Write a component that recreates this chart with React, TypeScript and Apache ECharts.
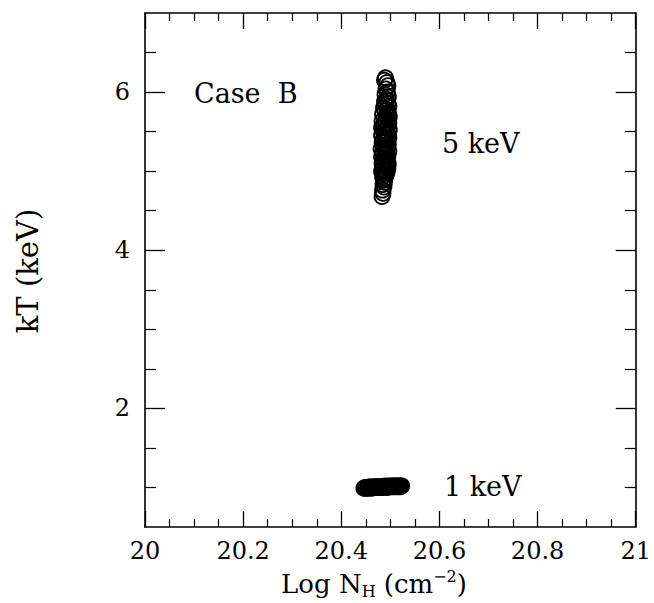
import React, { useEffect, useRef } from "react";
import * as echarts from "echarts";

// 5 keV model fits: log NH and kT
const hotLogNH = [
  20.49, 20.488, 20.493, 20.495, 20.491, 20.494, 20.489, 20.496, 20.492, 20.488,
  20.495, 20.49, 20.497, 20.486, 20.493, 20.489, 20.496, 20.484, 20.492, 20.498,
  20.487, 20.494, 20.49, 20.483, 20.497, 20.491, 20.486, 20.495, 20.482, 20.492,
  20.498, 20.485, 20.493, 20.488, 20.496, 20.482, 20.49, 20.497, 20.485, 20.493,
  20.488, 20.483, 20.496, 20.491, 20.486, 20.494, 20.481, 20.49, 20.497, 20.484,
  20.492, 20.488, 20.495, 20.482, 20.491, 20.486, 20.494, 20.489, 20.483, 20.496,
  20.487, 20.492, 20.484, 20.495, 20.489, 20.482, 20.493, 20.487, 20.491, 20.484,
  20.489, 20.486, 20.488, 20.485, 20.487, 20.484, 20.485, 20.483,
];
const hotKT = [
  6.18, 6.15, 6.12, 6.08, 6.04, 6.0, 5.97, 5.94, 5.91, 5.88,
  5.86, 5.84, 5.82, 5.8, 5.78, 5.76, 5.74, 5.72, 5.71, 5.69,
  5.67, 5.66, 5.64, 5.63, 5.61, 5.6, 5.58, 5.57, 5.55, 5.54,
  5.52, 5.51, 5.49, 5.48, 5.46, 5.45, 5.43, 5.42, 5.4, 5.39,
  5.37, 5.36, 5.34, 5.33, 5.31, 5.3, 5.28, 5.27, 5.25, 5.24,
  5.22, 5.21, 5.19, 5.18, 5.16, 5.15, 5.13, 5.12, 5.1, 5.09,
  5.07, 5.06, 5.04, 5.03, 5.01, 5.0, 4.98, 4.97, 4.95, 4.93,
  4.91, 4.89, 4.86, 4.83, 4.8, 4.76, 4.72, 4.68,
];

// 1 keV model fits: log NH and kT
const coolLogNH = [
  20.446, 20.448, 20.45, 20.451, 20.453, 20.455, 20.457, 20.458, 20.46, 20.462,
  20.464, 20.466, 20.467, 20.469, 20.471, 20.473, 20.475, 20.476, 20.478, 20.48,
  20.482, 20.484, 20.485, 20.487, 20.489, 20.491, 20.493, 20.494, 20.496, 20.498,
  20.5, 20.502, 20.503, 20.505, 20.507, 20.509, 20.511, 20.512, 20.514, 20.516,
  20.518, 20.52, 20.521, 20.523,
];
const coolKT = [
  0.99, 1.0, 0.99, 1.0, 1.0, 0.99, 1.0, 1.01, 1.0, 0.99,
  1.0, 1.01, 1.0, 1.0, 1.01, 1.0, 1.01, 1.0, 1.01, 1.0,
  1.01, 1.01, 1.0, 1.01, 1.02, 1.01, 1.0, 1.01, 1.02, 1.01,
  1.01, 1.02, 1.01, 1.02, 1.01, 1.02, 1.01, 1.02, 1.02, 1.01,
  1.02, 1.01, 1.02, 1.02,
];

const kTMajorTicks = [2, 4, 6];
const kTMinorTicks = [1, 1.5, 2.5, 3, 3.5, 4.5, 5, 5.5, 6.5];

const FONT = "DejaVu Serif";

export default function App() {
  const ref = useRef<HTMLDivElement>(null);

  useEffect(() => {
    document.body.style.margin = "0";
    if (!ref.current) return;
    const chart = echarts.init(ref.current, null, { renderer: "svg" });

    const line = { show: true, lineStyle: { color: "#000", width: 1.6 } };

    const xBase = (position: "bottom" | "top", showLabel: boolean) => ({
      type: "value" as const,
      position,
      min: 20,
      max: 21,
      interval: 0.2,
      axisLine: line,
      axisTick: { show: true, inside: true, length: 16, lineStyle: { color: "#000", width: 1.3 } },
      minorTick: { show: true, splitNumber: 4, length: 8, lineStyle: { color: "#000", width: 1.2 } },
      splitLine: { show: false },
      axisLabel: {
        show: showLabel,
        margin: 12,
        color: "#000",
        fontFamily: FONT,
        fontSize: 24,
        formatter: (v: number) => String(Number(v.toFixed(1))),
      },
    });

    const yMajor = (position: "left" | "right", showLabel: boolean) => ({
      type: "value" as const,
      position,
      min: 0.5,
      max: 7,
      axisLine: line,
      axisTick: {
        show: true,
        inside: true,
        length: 20,
        customValues: kTMajorTicks,
        lineStyle: { color: "#000", width: 1.3 },
      },
      splitLine: { show: false },
      axisLabel: {
        show: showLabel,
        customValues: kTMajorTicks,
        margin: 15,
        color: "#000",
        fontFamily: FONT,
        fontSize: 24,
      },
    });

    const yMinor = (position: "left" | "right") => ({
      type: "value" as const,
      position,
      min: 0.5,
      max: 7,
      axisLine: { show: false },
      axisTick: {
        show: true,
        inside: true,
        length: 11,
        customValues: kTMinorTicks,
        lineStyle: { color: "#000", width: 1.2 },
      },
      splitLine: { show: false },
      axisLabel: { show: false },
    });

    const circle = {
      type: "scatter" as const,
      xAxisIndex: 0,
      yAxisIndex: 0,
      symbol: "circle",
      symbolSize: 15,
      itemStyle: { color: "rgba(0,0,0,0)", borderColor: "#000", borderWidth: 1.8, opacity: 1 },
      emphasis: { disabled: true },
    };

    const label = (text: string, x: number, y: number) => ({
      type: "text" as const,
      x,
      y,
      style: { text, fontFamily: FONT, fontSize: 27, fill: "#000", verticalAlign: "middle" },
    });

    chart.setOption({
      animation: false,
      backgroundColor: "#fff",
      grid: { left: 145, right: 17, top: 13, bottom: 76 },
      xAxis: [xBase("bottom", true), xBase("top", false)],
      yAxis: [yMajor("left", true), yMinor("left"), yMajor("right", false), yMinor("right")],
      series: [
        { ...circle, name: "5 keV", data: hotLogNH.map((x, i) => [x, hotKT[i]]) },
        { ...circle, name: "1 keV", data: coolLogNH.map((x, i) => [x, coolKT[i]]) },
      ],
      graphic: [
        label("Case  B", 194, 93),
        label("5 keV", 442, 143),
        label("1 keV", 444, 486),
        {
          type: "text",
          x: 28,
          y: 271,
          rotation: Math.PI / 2,
          style: {
            text: "kT (keV)",
            fontFamily: FONT,
            fontSize: 29,
            fill: "#000",
            align: "center",
            verticalAlign: "middle",
          },
        },
        {
          type: "text",
          x: 374,
          y: 584,
          style: {
            text: "{a|Log N}{s|H}{a| (cm}{p|−2}{a|)}",
            align: "center",
            verticalAlign: "middle",
            rich: {
              a: { fontFamily: FONT, fontSize: 26, fill: "#000", height: 32 },
              s: { fontFamily: FONT, fontSize: 16, fill: "#000", padding: [15, 0, 0, 0] },
              p: { fontFamily: FONT, fontSize: 16, fill: "#000", padding: [0, 0, 15, 0] },
            },
          },
        },
      ],
    });

    return () => chart.dispose();
  }, []);

  return <div ref={ref} style={{ width: 654, height: 603 }} />;
}
